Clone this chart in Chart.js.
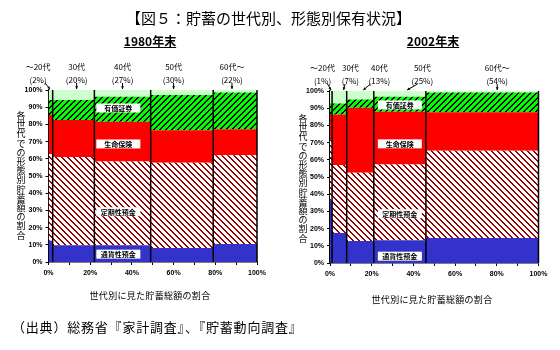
<!DOCTYPE html>
<html><head><meta charset="utf-8">
<script src="https://cdn.jsdelivr.net/npm/chart.js@4.4.0/dist/chart.umd.min.js"></script>
<style>
html,body{margin:0;padding:0;background:#fff;}
body{width:560px;height:350px;overflow:hidden;position:relative;font-family:"Noto Sans CJK JP",sans-serif;color:#000;}
canvas{position:absolute;top:0;}
.t{position:absolute;white-space:nowrap;line-height:1;color:#000;}
.sub{font-weight:bold;font-size:12px;text-decoration:underline;text-align:center;width:100px;}
.yt{white-space:normal;word-break:break-all;width:10px;font-size:9px;line-height:9.2px;text-align:center;}
.xt{font-size:9px;text-align:center;width:160px;letter-spacing:0.3px;}
</style></head><body>
<canvas id="c1" width="280" height="350" style="left:0px"></canvas>
<canvas id="c2" width="280" height="350" style="left:280px"></canvas>
<div class="t" style="left:126px;top:10px;font-size:15px;">【図５：貯蓄の世代別、形態別保有状況】</div>
<div class="t sub" style="left:100px;top:35px;">1980年末</div>
<div class="t sub" style="left:383px;top:35px;">2002年末</div>
<div class="t yt" style="left:16px;top:111px;">各世代での形態別貯蓄額の割合</div>
<div class="t yt" style="left:298px;top:114px;">各世代での形態別貯蓄額の割合</div>
<div class="t xt" style="left:70px;top:291px;">世代別に見た貯蓄総額の割合</div>
<div class="t xt" style="left:352px;top:295px;">世代別に見た貯蓄総額の割合</div>
<div class="t" style="left:12px;top:320px;font-size:13px;letter-spacing:0.8px;">（出典）総務省『家計調査』、『貯蓄動向調査』</div>
<script>
// ---- data ----
const generations = ['～20代', '30代', '40代', '50代', '60代～'];
const seriesNames = ['通貨性預金', '定期性預金', '生命保険', '有価証券', 'その他'];
const xTickStep = 10;
const yTickStep = 10;

const share1980 = [2, 20, 27, 30, 22];
const tsuka1980 = [12.3, 9.7, 9.7, 8.2, 10.5];
const teiki1980 = [50.3, 51.3, 48.8, 49.5, 51.5];
const seimei1980 = [22.8, 21.5, 23.0, 18.9, 15.2];
const yuka1980 = [8.8, 11.7, 14.6, 20.5, 21.4];
const other1980 = [5.8, 5.8, 3.9, 2.9, 1.4];

const share2002 = [1, 7, 13, 25, 54];
const tsuka2002 = [36.5, 17.5, 12.8, 13.2, 14.6];
const teiki2002 = [35.5, 39.5, 39.6, 44.1, 50.6];
const seimei2002 = [14.4, 29.4, 37.9, 30.7, 22.4];
const yuka2002 = [6.4, 6.4, 4.8, 8.7, 11.6];
const other2002 = [7.2, 7.2, 4.9, 3.3, 0.8];

// ---- patterns ----
function pixelPattern(size, bg, fg, fn) {
  const c = document.createElement('canvas');
  c.width = c.height = size;
  const g = c.getContext('2d');
  g.fillStyle = bg; g.fillRect(0, 0, size, size);
  g.fillStyle = fg;
  for (let y = 0; y < size; y++) for (let x = 0; x < size; x++) if (fn(x, y)) g.fillRect(x, y, 1, 1);
  return document.createElement('canvas').getContext('2d').createPattern(c, 'repeat');
}
const hatchRed = pixelPattern(6, '#ffffff', '#990000', (x, y) => (((x - y) % 6) + 6) % 6 < 2);
const hatchGreen = pixelPattern(6, '#00ff00', '#000000', (x, y) => ((x + y) % 6) < 2);
const fills = ['#3333cc', hatchRed, '#ff0000', hatchGreen, '#ccffcc'];

function stepPoints(shares, values) {
  const pts = []; let x = 0;
  shares.forEach((s, i) => { pts.push({ x: x, y: values[i] }); x += s; });
  pts.push({ x: x, y: values[values.length - 1] });
  return pts;
}
function cumulative(shares) { let a = 0; return shares.map(s => Math.min(100, a += s)); }

const annot = {
  id: 'annot',
  afterDatasetsDraw(chart, args, o) {
    const { ctx, chartArea } = chart;
    const x = chart.scales.x;
    ctx.save();
    ctx.strokeStyle = '#000'; ctx.lineWidth = 1.5;
    cumulative(o.shares).forEach(v => {
      const px = x.getPixelForValue(v);
      ctx.beginPath(); ctx.moveTo(px, chartArea.top); ctx.lineTo(px, chartArea.bottom); ctx.stroke();
    });
    ctx.restore();
  },
  afterDraw(chart, args, o) {
    const { ctx, chartArea } = chart;
    const x = chart.scales.x, y = chart.scales.y;
    const top = chartArea.top;
    ctx.save();
    ctx.fillStyle = '#000'; ctx.strokeStyle = '#000';
    ctx.textAlign = 'center'; ctx.textBaseline = 'middle';
    ctx.font = '8px "Noto Sans CJK JP"';
    o.labelX.forEach((lx, i) => {
      const px = x.getPixelForValue(lx);
      ctx.fillText(generations[i], px, top - 23);
      ctx.fillText('(' + o.shares[i] + '%)', px, top - 10);
      const a0 = x.getPixelForValue(o.arrowFrom[i]);
      const a1 = x.getPixelForValue(o.arrowTo[i]);
      const y0 = top - 7, y1 = top - 1;
      ctx.lineWidth = 1;
      ctx.beginPath(); ctx.moveTo(a0, y0); ctx.lineTo(a1, y1); ctx.stroke();
      const ang = Math.atan2(y1 - y0, a1 - a0);
      ctx.beginPath();
      ctx.moveTo(a1, y1);
      ctx.lineTo(a1 - 3 * Math.cos(ang - 0.5), y1 - 3 * Math.sin(ang - 0.5));
      ctx.lineTo(a1 - 3 * Math.cos(ang + 0.5), y1 - 3 * Math.sin(ang + 0.5));
      ctx.closePath(); ctx.fill();
    });
    // inner labels
    const b = o.labelBar;
    const cx = x.getPixelForValue(o.labelCenter);
    let base = 0;
    ctx.font = 'bold 7px "Noto Sans CJK JP"';
    for (let k = 0; k < 4; k++) {
      const v = o.series[k][b];
      const py = y.getPixelForValue(base + v * o.labelFrac[k]);
      base += v;
      ctx.fillStyle = '#fff';
      ctx.fillRect(cx - 22, py - 4.5, 44, 9);
      ctx.fillStyle = '#000';
      ctx.fillText(seriesNames[k], cx, py + 0.5);
    }
    ctx.restore();
  }
};

function build(id, shares, series, pad, o) {
  const datasets = series.map((vals, k) => ({
    label: seriesNames[k],
    data: stepPoints(shares, vals),
    stepped: 'before',
    fill: k === 0 ? 'origin' : '-1',
    backgroundColor: fills[k],
    borderColor: 'rgba(0,0,0,0)',
    borderWidth: 0,
    pointRadius: 0
  }));
  o.series = series; o.shares = shares;
  return new Chart(document.getElementById(id), {
    type: 'line',
    data: { datasets },
    options: {
      responsive: false, animation: false, devicePixelRatio: 1,
      layout: { padding: pad },
      plugins: { legend: { display: false }, tooltip: { enabled: false }, annot: o },
      scales: {
        x: {
          type: 'linear', min: 0, max: 100, position: 'bottom',
          afterFit(s) { s.height = 16; },
          ticks: { stepSize: xTickStep, autoSkip: false, maxRotation: 0, padding: 4,
            color: '#000', font: { family: 'Liberation Sans', size: 7, weight: 'bold' },
            callback: v => (v % 20 === 0 ? v + '%' : '') },
          grid: { display: true, drawOnChartArea: false, drawTicks: true, tickLength: 3, color: '#000' },
          border: { display: true, color: '#000', width: 1.5 }
        },
        y: {
          type: 'linear', min: 0, max: 100, stacked: true,
          afterFit(s) { s.width = 30; },
          ticks: { stepSize: yTickStep, padding: 3, color: '#000',
            font: { family: 'Liberation Sans', size: 7, weight: 'bold' },
            callback: v => v + '%' },
          grid: { display: true, drawOnChartArea: false, drawTicks: true, tickLength: 3, color: '#000' },
          border: { display: true, color: '#000', width: 1.5 }
        }
      }
    },
    plugins: [annot]
  });
}

build('c1', share1980, [tsuka1980, teiki1980, seimei1980, yuka1980, other1980],
  { left: 18.5, right: 23, top: 90, bottom: 72 },
  { labelX: [-5, 13.5, 35.5, 60, 88], arrowFrom: [-1.7, 13.5, 35.5, 60, 88], arrowTo: [0.7, 13.5, 35.5, 60, 88],
    labelBar: 2, labelCenter: 33.5, labelFrac: [0.47, 0.4, 0.44, 0.55] });
build('c2', share2002, [tsuka2002, teiki2002, seimei2002, yuka2002, other2002],
  { left: 20, right: 21.5, top: 91, bottom: 71 },
  { labelX: [-3.6, 9.8, 23.7, 44.3, 80.2], arrowFrom: [-1.2, 7.2, 19.4, 42, 80.2], arrowTo: [0.5, 6.5, 16, 37, 80.2],
    labelBar: 3, labelCenter: 33.5, labelFrac: [0.3, 0.35, 0.39, 0.45] });
</script>
</body></html>
